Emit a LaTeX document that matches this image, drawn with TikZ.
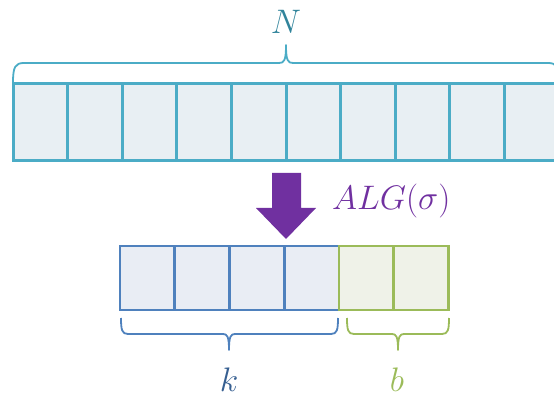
\RequirePackage{fix-cm}
\documentclass[tikz,border=0pt]{standalone}
\usepackage{amsmath}
\begin{document}
\begin{tikzpicture}[x=1pt,y=-1pt,
  topcell/.style={draw=cellTeal,fill=fillTeal,line width=3pt,minimum width=54.6pt,minimum height=77pt,inner sep=0pt,outer sep=0pt},
  kcell/.style={draw=cellBlue,fill=fillBlue,line width=2.8pt,minimum width=54.75pt,minimum height=64pt,inner sep=0pt,outer sep=0pt},
  bcell/.style={draw=cellGreen,fill=fillGreen,line width=2.8pt,minimum width=54.75pt,minimum height=64pt,inner sep=0pt,outer sep=0pt},
  bracestyle/.style={line width=1.8pt,line join=round},
  lbl/.style={font=\fontsize{34}{40}\selectfont,inner sep=0pt}]
\definecolor{cellTeal}{HTML}{4BACC6}
\definecolor{fillTeal}{HTML}{E8EFF3}
\definecolor{textTeal}{HTML}{31849B}
\definecolor{cellBlue}{HTML}{4F81BD}
\definecolor{fillBlue}{HTML}{E9EDF4}
\definecolor{textBlue}{HTML}{365F91}
\definecolor{cellGreen}{HTML}{9BBB59}
\definecolor{fillGreen}{HTML}{EFF2E8}
\definecolor{algPurple}{HTML}{7030A0}
\useasboundingbox (0,0) rectangle (554,398);
\clip (0,0) rectangle (554,398);
% top row
\foreach \i in {1,...,10}{
  \node[topcell] (t\i) at ({13+54.6*(\i-0.5)},122.5) {};
}
% top brace
\coordinate (tbL) at (13,83);
\coordinate (tbR) at (559,83);
\coordinate (tbTip) at (286,45);
\draw[bracestyle,cellTeal] (tbL) .. controls (13,67) and (15,63) .. (24,63) -- (279,63)
  .. controls (284,63) and (286,61) .. (tbTip)
  .. controls (286,61) and (288,63) .. (293,63) -- (548,63)
  .. controls (557,63) and (559,67) .. (tbR);
\node[lbl,text=textTeal] (N) at (286,22) {$N$};
% arrow
\fill[algPurple] (272,173) -- (301,173) -- (301,208) -- (316,208) -- (286,239) -- (256,208) -- (272,208) -- cycle;
\node[lbl,text=algPurple,anchor=west] (alg) at (332,201) {$ALG(\sigma)$};
% bottom row
\foreach \i in {1,...,4}{
  \node[kcell] (k\i) at ({120+54.75*(\i-0.5)},278) {};
}
\foreach \i in {1,2}{
  \node[bcell] (g\i) at ({339+54.75*(\i-0.5)},278) {};
}
% k brace
\coordinate (kbL) at (121,318);
\coordinate (kbR) at (338,318);
\coordinate (kbTip) at (229,350);
\draw[bracestyle,cellBlue] (kbL) .. controls (121,330) and (122,334) .. (128,334) -- (223,334)
  .. controls (227,334) and (229,336) .. (kbTip)
  .. controls (229,336) and (231,334) .. (235,334) -- (331,334)
  .. controls (337,334) and (338,330) .. (kbR);
% b brace
\coordinate (bbL) at (347,318);
\coordinate (bbR) at (449,318);
\coordinate (bbTip) at (398,350);
\draw[bracestyle,cellGreen] (bbL) .. controls (347,330) and (348,334) .. (354,334) -- (392,334)
  .. controls (396,334) and (398,336) .. (bbTip)
  .. controls (398,336) and (400,334) .. (404,334) -- (442,334)
  .. controls (448,334) and (449,330) .. (bbR);
\node[lbl,text=textBlue] (k) at (229,380) {$k$};
\node[lbl,text=cellGreen] (b) at (397,380) {$b$};
\end{tikzpicture}
\end{document}
